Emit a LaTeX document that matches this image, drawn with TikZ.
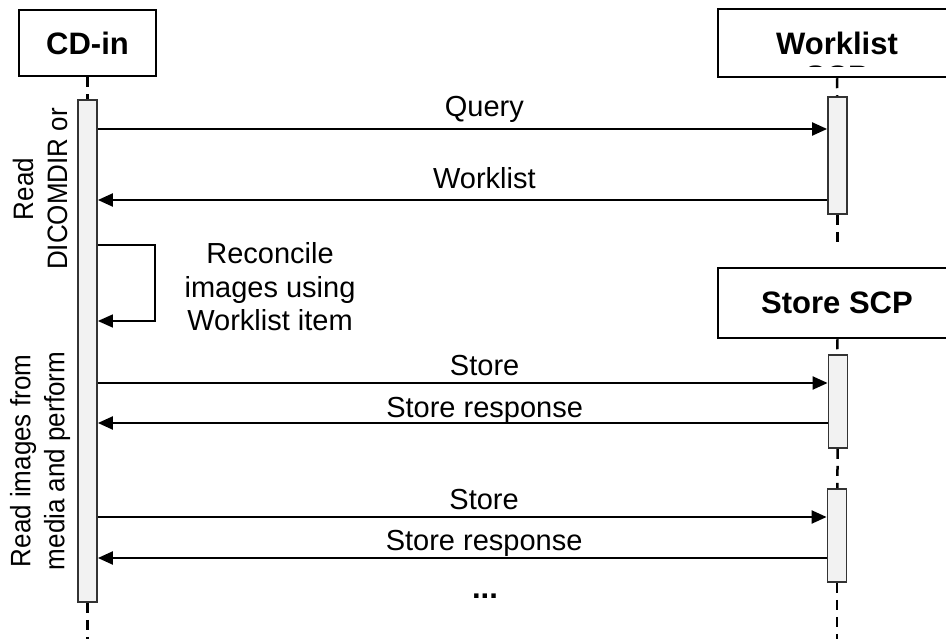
\documentclass[tikz,border=0pt]{standalone}
\usepackage{fontspec}
\setmainfont{Liberation Sans}
\usetikzlibrary{arrows.meta}
\definecolor{barfill}{HTML}{F2F2F2}
\definecolor{barline}{HTML}{333333}

\begin{document}
\begin{tikzpicture}[x=1pt, y=-1pt,
    font=\fontsize{29}{33.5}\selectfont,
    >={Triangle[length=15pt, width=13pt]},
    title/.style={font=\fontsize{31}{33}\selectfont\bfseries},
    actor/.style={draw, line width=2.5pt, fill=white, inner sep=0pt, title},
    bar/.style={draw=barline, line width=1.8pt, fill=barfill, minimum width=19pt, inner sep=0pt},
    lifeline/.style={line width=2.5pt, dash pattern=on 10pt off 7pt},
    msg/.style={line width=2.2pt},
    lbl/.style={anchor=base, yshift=#1},
    lbl/.default=8pt,
    note/.style={rotate=90, yscale=1.08, align=center, font=\fontsize{26}{31.5}\selectfont}]
    \useasboundingbox (0,0) rectangle (946,639);

    % lifeline heads
    \node[actor, minimum width=137pt, minimum height=66pt] (cd) at (87.5,43) {CD-in};
    \node[actor, minimum width=238pt, minimum height=68pt] (wl) at (837,43) {};
    \begin{scope}
        \clip (wl.north west) rectangle (wl.east |- 0,67);
        \node[title, align=center, anchor=north, inner sep=0pt] (wltitle) at (837,32) {Worklist\\SCP};
    \end{scope}
    \node[actor, minimum width=238pt, minimum height=70pt] (st) at (837,303) {Store SCP};

    % activations
    \node[bar, minimum height=502pt] (cdbar) at (87.5,351) {};
    \node[bar, minimum height=117pt] (wlbar) at (837.5,155.5) {};
    \node[bar, minimum height=93pt] (stbarA) at (838,401.5) {};
    \node[bar, minimum height=93pt] (stbarB) at (837,535.5) {};

    \coordinate (cdend) at (87.5,639);
    \coordinate (wlend) at (837.5,242);
    \coordinate (stend) at (837,639);
    \coordinate (loop) at (155,283);

    \draw[lifeline] (cd) -- (cdbar);
    \draw[lifeline] (cdbar) -- (cdend);
    \draw[lifeline] (wl) -- (wlbar);
    \draw[lifeline] (wlbar) -- (wlend);
    \draw[lifeline] (st) -- (stbarA);
    \draw[lifeline] (stbarA) -- (stbarB);
    \draw[lifeline] (stbarB) -- (stend);

    % side notes
    \node[note] (readdir) at (40,189) {Read\\DICOMDIR or};
    \node[note] (readimg) at (40,461) {Read images from\\media and perform};

    % messages
    \draw[->, msg] (cdbar.east |- 0,129) -- node[lbl=12pt, pos=.53] {Query} (wlbar.west |- 0,129);
    \draw[->, msg] (wlbar.west |- 0,200) -- node[lbl=11pt, pos=.47] {Worklist} (cdbar.east |- 0,200);

    \draw[->, line width=1.5pt] (cdbar.east |- 0,245) -| (loop) |- (cdbar.east |- 0,321);
    \node[align=center] (reconcile) at (270,287) {Reconcile\\images using\\Worklist item};

    \draw[->, msg] (cdbar.east |- 0,383) -- node[lbl, pos=.53] {Store} (stbarA.west |- 0,383);
    \draw[->, msg] (stbarA.west |- 0,423) -- node[lbl=6pt, pos=.47] {Store response} (cdbar.east |- 0,423);
    \draw[->, msg] (cdbar.east |- 0,517) -- node[lbl, pos=.53] {Store} (stbarB.west |- 0,517);
    \draw[->, msg] (stbarB.west |- 0,558) -- node[lbl, pos=.47] {Store response} (cdbar.east |- 0,558);

    \node[title, anchor=base] (more) at (485,598) {...};
\end{tikzpicture}
\end{document}
